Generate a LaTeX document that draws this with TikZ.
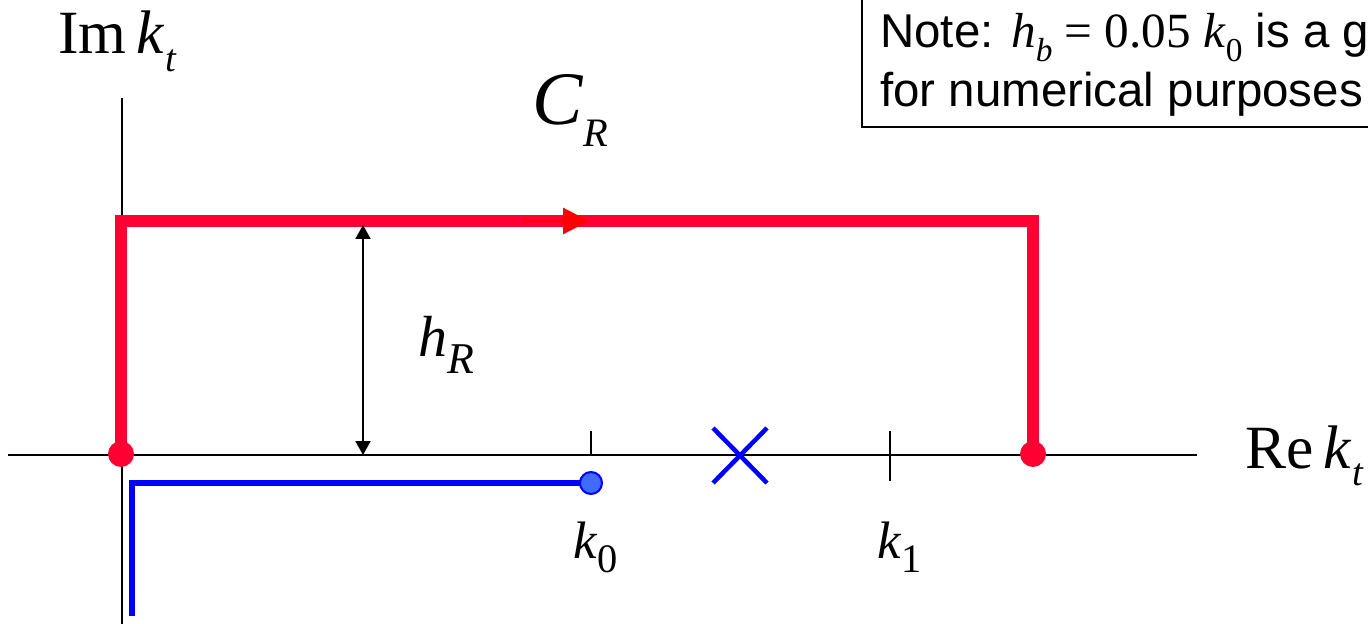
\documentclass[tikz,border=0pt]{standalone}
\usepackage{fontspec}
\setmainfont{Liberation Serif}
\setsansfont{Liberation Sans}
\usetikzlibrary{arrows.meta}
\definecolor{contourred}{HTML}{FF0033}
\definecolor{arrowred}{HTML}{FF0000}
\definecolor{dotblue}{HTML}{3F6BFF}
\newcommand{\fs}[1]{\fontsize{#1}{#1}\selectfont}
\newcommand{\lowsub}[2]{\raisebox{-0.28em}{\fs{#1}#2}}

\begin{document}
\begin{tikzpicture}[x=0.02cm,y=-0.02cm,
  contour/.style={contourred,line width=0.23cm,line join=miter},
  axisline/.style={line width=0.05cm},
  lbl/.style={anchor=base west,inner sep=0pt},
  notetext/.style={anchor=base west,inner sep=0pt,font=\sffamily\fs{27pt}}]
  \useasboundingbox (0,0) rectangle (1368,624);
  \clip (0,0) rectangle (1368,624);
  % axes
  \coordinate (xl) at (8,455);
  \coordinate (xr) at (1197,455);
  \coordinate (yt) at (122,98);
  \coordinate (yb) at (122,630);
  \draw[axisline] (xl) -- (xr);
  \draw[axisline] (yt) -- (yb);
  \node[lbl] (imk) at (58,54) {\fs{35pt}Im\,\textit{k}\lowsub{22pt}{\textit{t}}};
  \node[lbl] (rek) at (1245,468) {\fs{35pt}Re\,\textit{k}\lowsub{22pt}{\textit{t}}};
  % ticks
  \coordinate (tk0) at (591,431);
  \coordinate (tk1) at (890,431);
  \draw[axisline] (tk0) -- (591,455);
  \draw[axisline] (tk1) -- (890,481);
  \node[lbl] (kzero) at (573,558) {\fs{30pt}\textit{k}\lowsub{23pt}{0}};
  \node[lbl] (kone) at (877,558) {\fs{30pt}\textit{k}\lowsub{23pt}{1}};
  % contour C_R
  \coordinate (ra) at (121,454);
  \coordinate (rb) at (121,221);
  \coordinate (rc) at (1033,221);
  \coordinate (rd) at (1033,454);
  \draw[contour] (ra) -- (rb) -- (rc) -- (rd);
  \fill[contourred] (ra) circle[radius=0.26cm];
  \fill[contourred] (rd) circle[radius=0.26cm];
  \draw[arrowred,line width=0.06cm,-{Triangle[length=0.52cm,width=0.52cm]}] (523,221) -- (589,221);
  \node[lbl] (cr) at (532,125) {\fs{43pt}\textit{C}\lowsub{23pt}{\textit{R}}};
  % height h_R
  \draw[line width=0.04cm,{Triangle[length=0.28cm,width=0.3cm]}-{Triangle[length=0.28cm,width=0.3cm]}] (363,225) -- (363,455);
  \node[lbl] (hr) at (418,357) {\fs{33pt}\textit{h}\lowsub{25pt}{\textit{R}}};
  % branch cut and pole
  \coordinate (bk) at (591,483);
  \draw[blue,line width=0.12cm,line join=miter] (bk) -- (132,483) -- (132,616);
  \filldraw[draw=blue,fill=dotblue,line width=0.04cm] (bk) circle[radius=0.22cm];
  \draw[blue,line width=0.09cm] (713,428) -- (767,483) (713,483) -- (767,428);
  % note
  \draw[line width=0.04cm] (862,-10) rectangle (1400,127);
  \node[notetext] (note1) at (880,48) {Note: {\rmfamily\fs{28pt}\textit{h}\lowsub{19pt}{\textit{b}} = 0.05 \textit{k}\lowsub{19pt}{0}} is a good choice};
  \node[notetext] (note2) at (880,107) {for numerical purposes};
\end{tikzpicture}
\end{document}
